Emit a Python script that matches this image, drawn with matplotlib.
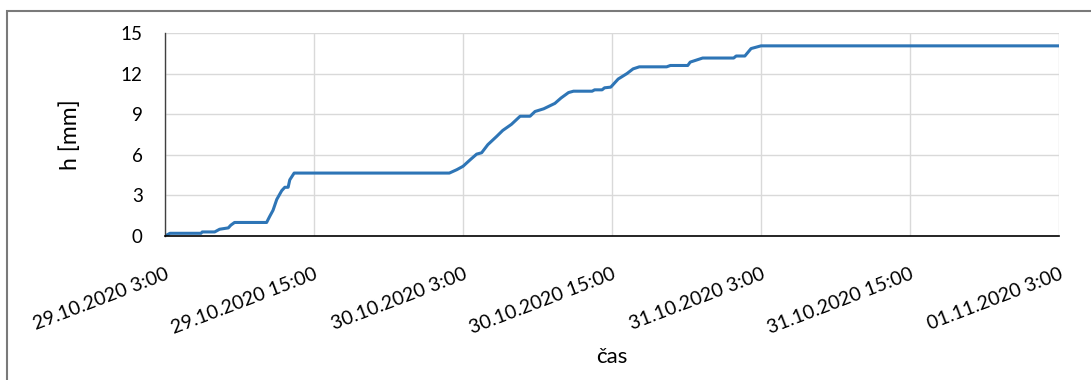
import numpy as np
import matplotlib
matplotlib.use("Agg")
import matplotlib.pyplot as plt
from matplotlib.patches import Rectangle

# cumulative rainfall, hours after 29.10.2020 3:00
hours = [0, 0.4, 1.0, 2.9, 3.0, 4.0, 4.4, 5.1, 5.3, 5.6, 8.2, 8.45, 8.7, 9.0, 9.4,
         9.66, 9.93, 10.06, 10.4, 22.9, 23.5, 24.0, 24.6, 25.1, 25.5, 26.0, 26.7,
         27.2, 27.9, 28.6, 29.4, 29.8, 30.5, 31.4, 31.9, 32.5, 32.9, 34.4, 34.6,
         35.2, 35.4, 35.9, 36.5, 37.2, 37.7, 38.2, 40.4, 40.7, 42.1, 42.3, 42.8,
         43.3, 45.8, 46.0, 46.7, 47.2, 47.6, 48.0, 72.0]
h_mm = [0, 0.2, 0.2, 0.2, 0.3, 0.3, 0.5, 0.6, 0.8, 1.0, 1.0, 1.45, 1.9, 2.7, 3.35,
        3.6, 3.6, 4.15, 4.65, 4.65, 4.9, 5.15, 5.65, 6.05, 6.15, 6.75, 7.35,
        7.8, 8.25, 8.85, 8.85, 9.2, 9.4, 9.8, 10.2, 10.6, 10.7, 10.7, 10.8,
        10.8, 10.95, 11.0, 11.6, 12.0, 12.35, 12.5, 12.5, 12.6, 12.6, 12.85, 13.0,
        13.15, 13.15, 13.3, 13.3, 13.85, 13.95, 14.05, 14.05]

tick_hours = [0, 12, 24, 36, 48, 60, 72]
tick_labels = ["29.10.2020 3:00", "29.10.2020 15:00", "30.10.2020 3:00",
               "30.10.2020 15:00", "31.10.2020 3:00", "31.10.2020 15:00",
               "01.11.2020 3:00"]
y_ticks = [0, 3, 6, 9, 12, 15]

start = np.datetime64("2020-10-29T03:00")
times = start + (np.array(hours) * 60).astype("timedelta64[m]")
tick_times = start + (np.array(tick_hours) * 60).astype("timedelta64[m]")

plt.rcParams["font.family"] = ["Lato", "DejaVu Sans"]

fig = plt.figure(figsize=(10.91, 3.80), dpi=100)
ax = fig.add_axes([165 / 1091, 1 - 236 / 380, (1059 - 165) / 1091, (236 - 33) / 380])

# outer chart frame
fig.patches.append(Rectangle((7 / 1091, -0.05), 1.1, 1 - 11 / 380 + 0.05,
                             transform=fig.transFigure, fill=False,
                             edgecolor="#7a7a7a", lw=1.5))

ax.plot(times, h_mm, color="#2e75b6", lw=2.2)

ax.set_xlim(tick_times[0], tick_times[-1])
ax.set_ylim(0, 15)
ax.set_xticks(tick_times)
ax.set_xticklabels(tick_labels, rotation=21, ha="right", rotation_mode="anchor",
                   fontsize=14)
ax.set_yticks(y_ticks)
ax.set_yticklabels([str(v) for v in y_ticks], fontsize=13.5)
ax.tick_params(axis="both", length=0)
ax.tick_params(axis="x", pad=21)
ax.tick_params(axis="y", pad=16)

ax.grid(True, color="#d9d9d9", lw=1.0)
ax.set_axisbelow(True)
for side in ("top", "right"):
    ax.spines[side].set_visible(False)
ax.spines["left"].set_color("#404040")
ax.spines["left"].set_linewidth(1.0)
ax.spines["bottom"].set_color("#000000")
ax.spines["bottom"].set_linewidth(1.2)

ax.set_ylabel("h [mm]", fontsize=16.5)
ax.yaxis.set_label_coords(-0.094, 0.5)
ax.set_xlabel("čas", fontsize=16)
ax.xaxis.set_label_coords(0.5, -0.545)

fig.savefig("out.png", dpi=100)
